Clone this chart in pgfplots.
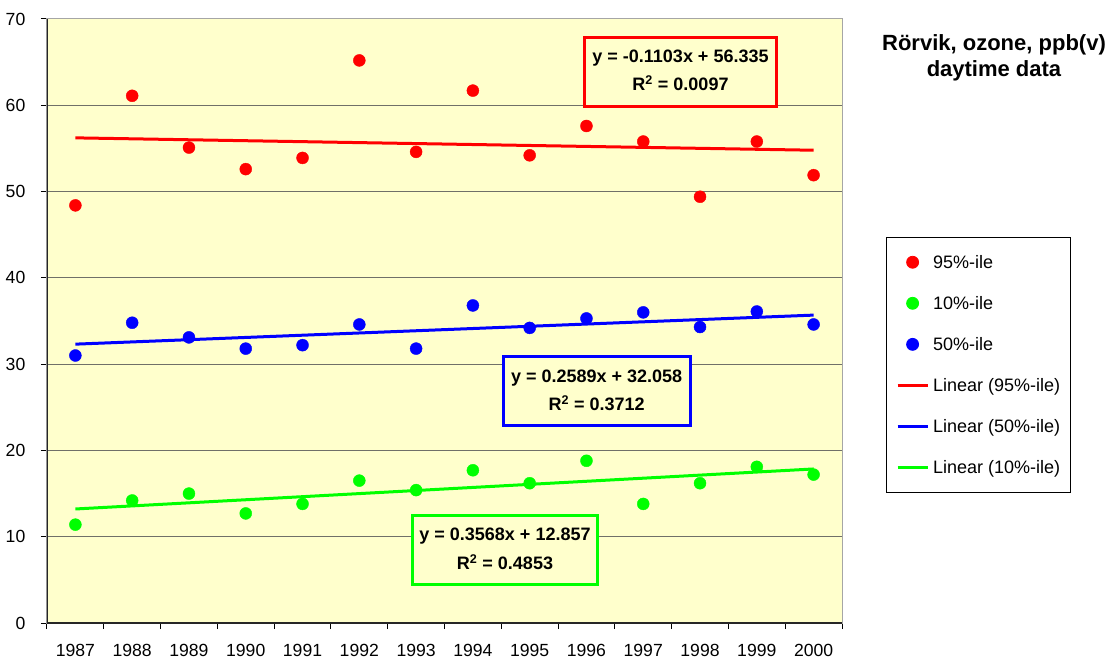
\documentclass[border=0pt]{standalone}
\usepackage{pgfplots}
\pgfplotsset{compat=1.18}
\usepackage{fontspec}
\setmainfont{Liberation Sans}
\definecolor{bg}{HTML}{FFFFCC}
\definecolor{gridc}{HTML}{707068}
\definecolor{myred}{HTML}{FF0000}
\definecolor{myblue}{HTML}{0000FF}
\definecolor{mygreen}{HTML}{00FF00}
\pgfplotsset{
  marklegend/.style={legend image code/.code={\draw[mark repeat=2,mark phase=2] plot coordinates {(0pt,0pt) (15pt,0pt) (30pt,0pt)};}},
  linelegend/.style={legend image code/.code={\draw (0pt,0pt) -- (30pt,0pt);}},
}
\newcommand{\eqfont}{\fontsize{18}{21}\selectfont\bfseries}
\begin{document}
\begin{tikzpicture}[x=1pt,y=1pt]
\useasboundingbox (0,0) rectangle (1114,659);
\begin{axis}[
  at={(47pt,36pt)}, anchor=south west,
  scale only axis, width=795pt, height=604pt,
  xmin=0.5, xmax=14.5, ymin=0, ymax=70,
  xtick={0.5,1.5,...,14.5},
  xticklabels={1987,1988,1989,1990,1991,1992,1993,1994,1995,1996,1997,1998,1999,2000,{}},
  ytick={0,10,...,70},
  xtick pos=left, ytick pos=left,
  ymajorgrids, grid style={gridc, line width=1pt},
  tick align=outside, major tick length=6pt,
  tick style={black, line width=1pt},
  axis line style={draw=gray!70, line width=1pt},
  axis background/.style={fill=bg},
  /pgf/number format/assume math mode=true,
  tick label style={font=\fontsize{17.6}{20}\selectfont, inner sep=0pt},
  xticklabel style={xshift=28.39pt, yshift=-15pt},
  yticklabel style={xshift=-15.5pt},
  legend cell align=left,
  legend style={at={(1.05497,0.6386)}, anchor=north west, draw=black, line width=0.8pt, fill=white,
    inner xsep=10pt, inner ysep=16.3pt, row sep=24.56pt, column sep=4pt,
    nodes={inner sep=0pt, text height=14.5pt, text depth=2pt, font=\fontsize{18}{20}\selectfont}},
]
\addplot[only marks, mark=*, mark size=6pt, color=myred, marklegend] coordinates {
(1,48.4) (2,61.1) (3,55.1) (4,52.6) (5,53.9) (6,65.2) (7,54.6)
(8,61.7) (9,54.2) (10,57.6) (11,55.8) (12,49.4) (13,55.8) (14,51.9)};
\addplot[only marks, mark=*, mark size=6pt, color=mygreen, marklegend] coordinates {
(1,11.4) (2,14.2) (3,15.0) (4,12.7) (5,13.8) (6,16.5) (7,15.4)
(8,17.7) (9,16.2) (10,18.8) (11,13.8) (12,16.2) (13,18.1) (14,17.2)};
\addplot[only marks, mark=*, mark size=6pt, color=myblue, marklegend] coordinates {
(1,31.0) (2,34.8) (3,33.1) (4,31.8) (5,32.2) (6,34.6) (7,31.8)
(8,36.8) (9,34.2) (10,35.3) (11,36.0) (12,34.3) (13,36.1) (14,34.6)};
\addplot[color=myred, line width=3pt, linelegend] coordinates {(1,56.2247) (14,54.7908)};
\addplot[color=myblue, line width=3pt, linelegend] coordinates {(1,32.3169) (14,35.6826)};
\addplot[color=mygreen, line width=3pt, linelegend] coordinates {(1,13.2138) (14,17.8522)};
\legend{95\%-ile, 10\%-ile, 50\%-ile, Linear (95\%-ile), Linear (50\%-ile), Linear (10\%-ile)}
\draw[black!85, line width=1.5pt] (rel axis cs:0,1) -- (rel axis cs:0,0) -- (rel axis cs:1,0);
\end{axis}
% title
\node[anchor=base, font=\fontsize{22}{24}\selectfont\bfseries] at (994,608.3) {Rörvik, ozone, ppb(v)};
\node[anchor=base, font=\fontsize{22}{24}\selectfont\bfseries] at (994,582.3) {daytime data};
% equation boxes
\draw[myred, line width=3pt, fill=bg] (584.2,552.8) rectangle (776.8,621.8);
\node[anchor=base, font=\eqfont] at (680.5,596.7) {y = -0.1103x + 56.335};
\node[anchor=base, font=\eqfont] at (680.5,568) {R\textsuperscript{2} = 0.0097};
\draw[myblue, line width=3pt, fill=bg] (503.2,233.8) rectangle (690.2,302.5);
\node[anchor=base, font=\eqfont] at (596.7,276.7) {y = 0.2589x + 32.058};
\node[anchor=base, font=\eqfont] at (596.7,248) {R\textsuperscript{2} = 0.3712};
\draw[mygreen, line width=3pt, fill=bg] (412.2,74.8) rectangle (597.8,143.5);
\node[anchor=base, font=\eqfont] at (505,118) {y = 0.3568x + 12.857};
\node[anchor=base, font=\eqfont] at (505,89) {R\textsuperscript{2} = 0.4853};
\end{tikzpicture}
\end{document}
